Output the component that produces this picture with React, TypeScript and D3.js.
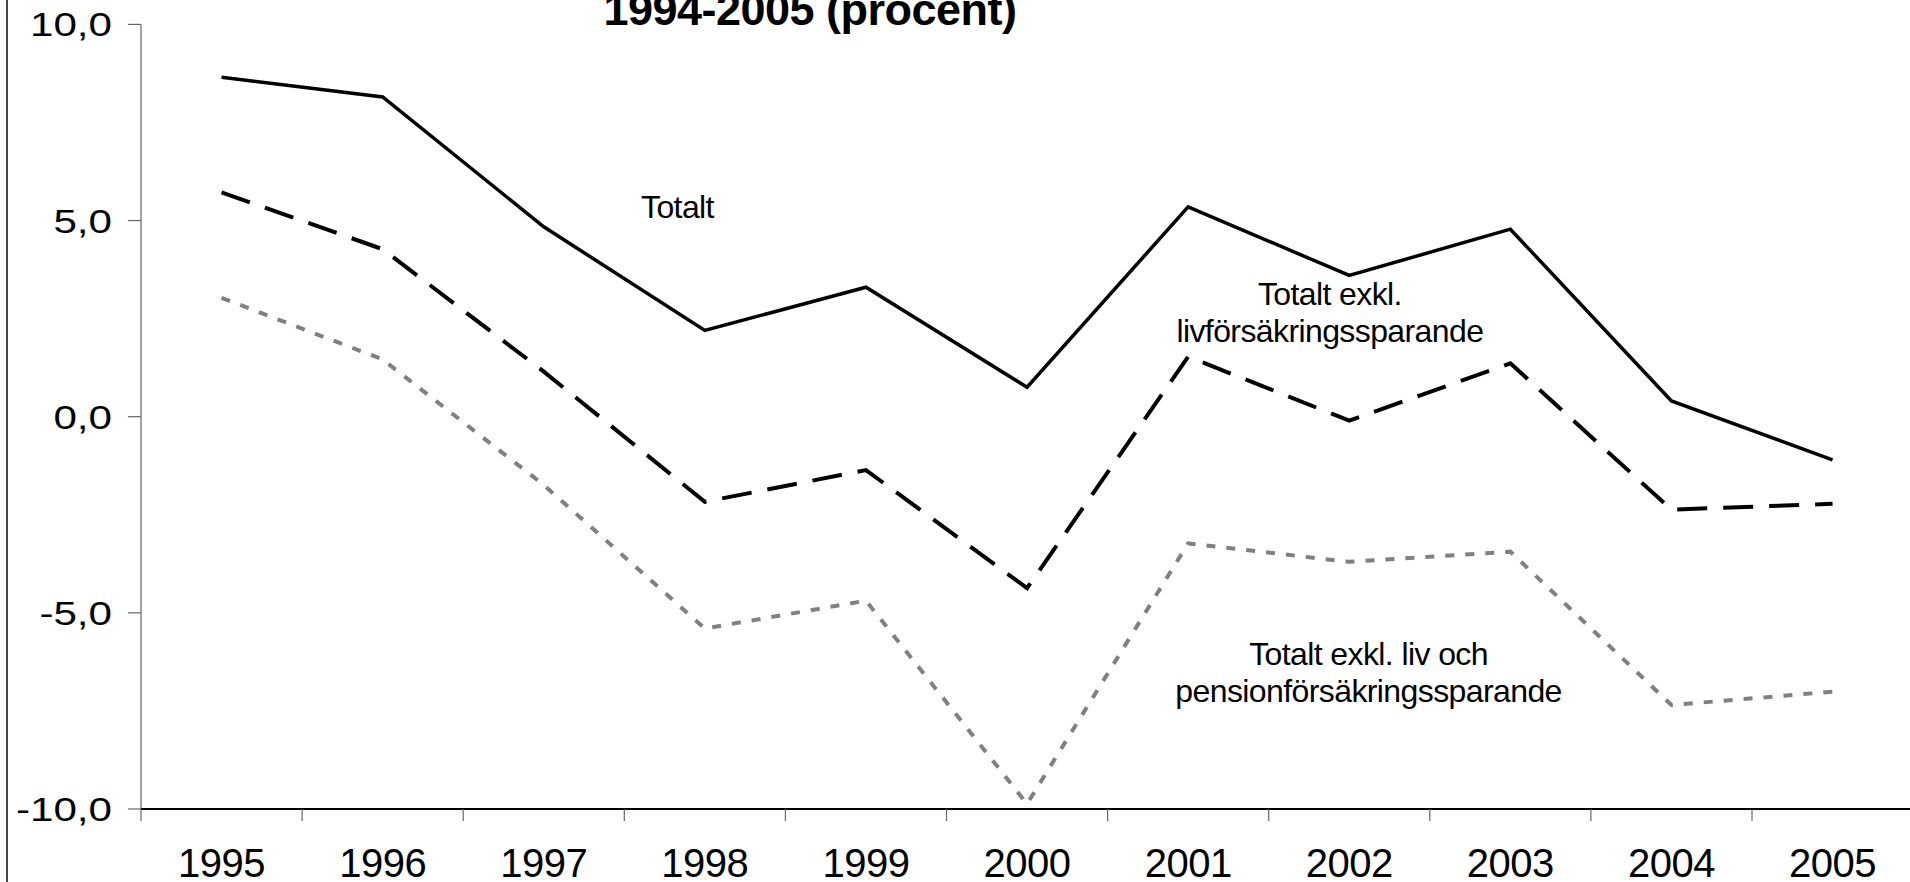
import React, { useEffect, useRef } from "react"
import * as d3 from "d3"

const W = 1910
const H = 882

// år på x-axeln
const years = ["1995", "1996", "1997", "1998", "1999", "2000", "2001", "2002", "2003", "2004", "2005"]
// sparkvot, procent
const totalt = [8.65, 8.15, 4.84, 2.2, 3.3, 0.75, 5.35, 3.6, 4.78, 0.4, -1.1]
const exklLiv = [5.72, 4.27, 1.15, -2.17, -1.36, -4.37, 1.53, -0.1, 1.36, -2.37, -2.22]
const exklLivPension = [3.03, 1.46, -1.74, -5.4, -4.69, -9.87, -3.23, -3.7, -3.44, -7.35, -7.01]
const yTicks = [-10, -5, 0, 5, 10]

const seriesList = [
  { name: "Totalt", values: totalt, color: "#000", width: 3.5, dash: null },
  { name: "Totalt exkl. livförsäkringssparande", values: exklLiv, color: "#000", width: 4, dash: "30 16" },
  { name: "Totalt exkl. liv och pensionförsäkringssparande", values: exklLivPension, color: "#808080", width: 4, dash: "9 11" },
]

// etiketter i dataenheter (index på x, värde på y)
const labels = [
  { lines: ["Totalt"], i: 2.83, v: 5.07 },
  { lines: ["Totalt exkl.", "livförsäkringssparande"], i: 6.88, v: 2.85 },
  { lines: ["Totalt exkl. liv och", "pensionförsäkringssparande"], i: 7.12, v: -6.33 },
]

const App = () => {
  const ref = useRef<SVGSVGElement | null>(null)

  useEffect(() => {
    document.body.style.margin = "0"
    document.body.style.overflow = "hidden"

    const svg = d3.select(ref.current)
    svg.selectAll("*").remove()

    const left = 141
    const step = 161.1
    const x = d3
      .scaleBand()
      .domain(years)
      .range([left, left + step * years.length])
      .paddingInner(0)
      .paddingOuter(0)
    const cx = (d: string) => (x(d) as number) + x.bandwidth() / 2
    const xi = d3
      .scaleLinear()
      .domain([0, years.length - 1])
      .range([cx(years[0]), cx(years[years.length - 1])])

    const y = d3.scaleLinear().domain([-10, 10]).range([809, 24.4])

    const font = "'Liberation Sans', Arial, sans-serif"

    svg.append("rect").attr("width", W).attr("height", H).attr("fill", "#fff")

    // ramlinje till vänster
    svg
      .append("line")
      .attr("x1", 7)
      .attr("x2", 7)
      .attr("y1", 0)
      .attr("y2", H)
      .attr("stroke", "#444")
      .attr("stroke-width", 2)

    // titel (överkant beskuren)
    svg
      .append("text")
      .attr("x", 810)
      .attr("y", 25)
      .attr("text-anchor", "middle")
      .attr("font-family", font)
      .attr("font-weight", "bold")
      .attr("font-size", 45)
      .attr("letter-spacing", -0.5)
      .text("1994-2005 (procent)")

    // y-axel
    svg
      .append("line")
      .attr("x1", left)
      .attr("x2", left)
      .attr("y1", y(10))
      .attr("y2", y(-10))
      .attr("stroke", "#666")
      .attr("stroke-width", 1.2)

    const yg = svg.append("g")
    yTicks.forEach((t) => {
      yg.append("line")
        .attr("x1", left - 13)
        .attr("x2", left)
        .attr("y1", y(t))
        .attr("y2", y(t))
        .attr("stroke", "#666")
        .attr("stroke-width", 1.2)
      yg.append("text")
        .attr("transform", `translate(${left - 29},${y(t) + 12}) scale(1.24,1)`)
        .attr("text-anchor", "end")
        .attr("font-family", font)
        .attr("font-size", 34)
        .text(d3.format(".1f")(t).replace(".", ",").replace("−", "-"))
    })

    // x-axel
    svg
      .append("line")
      .attr("x1", left)
      .attr("x2", W)
      .attr("y1", y(-10))
      .attr("y2", y(-10))
      .attr("stroke", "#000")
      .attr("stroke-width", 2)

    const xg = svg.append("g")
    years.forEach((d) => {
      xg.append("line")
        .attr("x1", x(d) as number)
        .attr("x2", x(d) as number)
        .attr("y1", y(-10))
        .attr("y2", y(-10) + 12)
        .attr("stroke", "#666")
        .attr("stroke-width", 1.2)
      xg.append("text")
        .attr("x", cx(d))
        .attr("y", 877)
        .attr("text-anchor", "middle")
        .attr("font-family", font)
        .attr("font-size", 40)
        .attr("letter-spacing", -0.5)
        .text(d)
    })

    // linjer
    const line = d3
      .line<number>()
      .x((_, i) => cx(years[i]))
      .y((v) => y(v))

    seriesList.forEach((s) => {
      const p = svg
        .append("path")
        .datum(s.values)
        .attr("d", line)
        .attr("fill", "none")
        .attr("stroke", s.color)
        .attr("stroke-width", s.width)
        .attr("stroke-linejoin", "miter")
      if (s.dash) p.attr("stroke-dasharray", s.dash)
    })

    // etiketter
    labels.forEach((l) => {
      const t = svg
        .append("text")
        .attr("x", xi(l.i))
        .attr("y", y(l.v))
        .attr("text-anchor", "middle")
        .attr("font-family", font)
        .attr("font-size", 32)
        .attr("letter-spacing", -0.6)
      l.lines.forEach((ln, k) => {
        t.append("tspan")
          .attr("x", xi(l.i))
          .attr("dy", k === 0 ? 0 : 37)
          .text(ln)
      })
    })
  }, [])

  return (
    <svg
      ref={ref}
      width={W}
      height={H}
      style={{ position: "absolute", left: 0, top: 0, display: "block" }}
    />
  )
}

export default App
